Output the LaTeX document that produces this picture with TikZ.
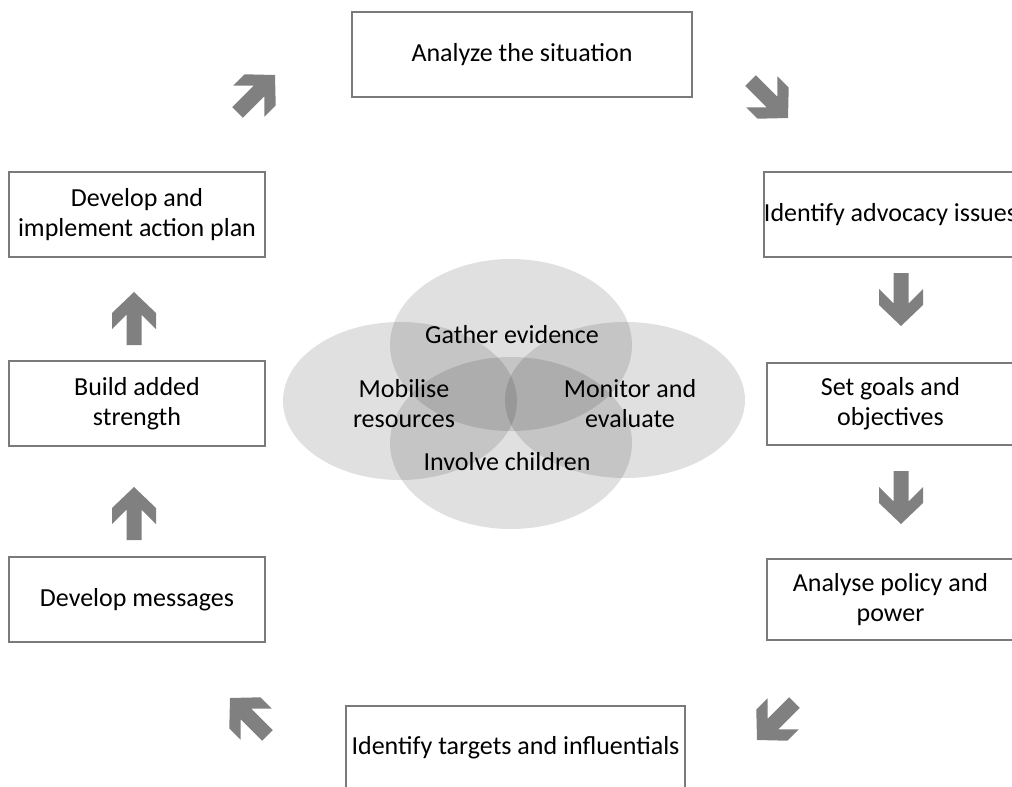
\documentclass[tikz,border=0pt]{standalone}
\usepackage{fontspec}
\setmainfont{Carlito}
\definecolor{boxgray}{HTML}{7A7A7A}
\definecolor{arrowgray}{HTML}{808080}
\begin{document}
\begin{tikzpicture}[x=1pt,y=-1pt,
  box/.style={draw=boxgray, line width=1.2pt, fill=white, align=center,
    font=\fontsize{26}{30}\selectfont, inner sep=0pt},
  blob/.style={fill=black, fill opacity=0.12},
  etext/.style={align=center, font=\fontsize{26}{30}\selectfont, inner sep=0pt},
  barrow/.pic={\fill[arrowgray] (0,0) -- (-22,-21) -- (-22,-37) -- (-7.5,-22.5)
     -- (-7.5,-53) -- (7.5,-53) -- (7.5,-22.5) -- (22,-37) -- (22,-21) -- cycle;}
]
\useasboundingbox (0,0) rectangle (1012,787);
\clip (0,0) rectangle (1012,787);

% central overlapping ellipses
\fill[blob] (511,345) ellipse [x radius=121pt, y radius=86pt];
\fill[blob] (511,443) ellipse [x radius=121pt, y radius=86pt];
\fill[blob] (400,401) ellipse [x radius=117pt, y radius=79pt];
\fill[blob] (625,400) ellipse [x radius=120pt, y radius=78pt];

\node[etext] (gather) at (512,335) {Gather evidence};
\node[etext] (mobil) at (404,404) {Mobilise\\resources};
\node[etext] (monit) at (630,404) {Monitor and\\evaluate};
\node[etext] (involve) at (507,462) {Involve children};

% boxes
\node[box, minimum width=340pt, minimum height=85pt] (analyze) at (522,54.5) {Analyze the situation};
\node[box, minimum width=247pt, minimum height=85pt] (issues) at (890.5,214.5) {Identify advocacy issues};
\node[box, minimum width=247pt, minimum height=82pt] (goals) at (890.5,404) {Set goals and\\objectives};
\node[box, minimum width=247pt, minimum height=81pt] (policy) at (890.5,599.5) {Analyse policy and\\power};
\node[box, minimum width=339pt, minimum height=86pt] (targets) at (515.5,749) {\raisebox{8pt}{Identify targets and influentials}};
\node[box, minimum width=256pt, minimum height=85pt] (messages) at (137,599.5) {Develop messages};
\node[box, minimum width=256pt, minimum height=85pt] (strength) at (137,403.5) {Build added\\strength};
\node[box, minimum width=256pt, minimum height=85pt] (plan) at (137,214.5) {Develop and\\implement action plan};

% block arrows
\pic[rotate=135] at (275,75) {barrow};
\pic[rotate=45] at (788,118) {barrow};
\pic at (901,326) {barrow};
\pic at (901,524) {barrow};
\pic[rotate=-45] at (757,740) {barrow};
\pic[rotate=-135] at (230,698) {barrow};
\pic[rotate=180] at (134,487) {barrow};
\pic[rotate=180] at (134,292) {barrow};
\end{tikzpicture}
\end{document}
